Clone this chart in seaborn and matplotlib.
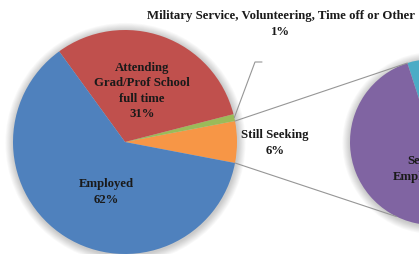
import numpy as np
import matplotlib
matplotlib.use('Agg')
import matplotlib.pyplot as plt
import seaborn as sns
from matplotlib.patches import Circle

# ── Data ───────────────────────────────────────────────────
# main pie, in drawing order (counter-clockwise from the "other" slice)
main_labels = ['Still Seeking', 'Military Service, Volunteering, Time off or Other',
               'Attending\nGrad/Prof School\nfull time', 'Employed']
main_values = [6, 1, 31, 62]
main_colors = ['#F79646', '#9BBB59', '#C0504D', '#4F81BD']

# secondary pie (breakdown of Still Seeking)
sub_labels = ['', 'Seeking\nEmployment']
sub_values = [1, 5]
sub_colors = ['#4BACC6', '#8064A2']

# ── Figure ─────────────────────────────────────────────────
sns.set_style('white')
plt.rcParams['font.family'] = ['Liberation Serif', 'DejaVu Serif']

W, H = 419, 254
fig = plt.figure(figsize=(W / 100, H / 100), dpi=100)
ax = fig.add_axes([0, 0, 1, 1])

c1, r1 = (125, 112), 112
c2, r2 = (433, 112), 83

def shadow(ax, c, r):
    for k in range(1, 10):
        ax.add_patch(Circle((c[0] + 0.5, c[1] - 1), r + k * 0.9, color='#000000',
                            alpha=0.025, lw=0, zorder=0))

shadow(ax, c1, r1)
shadow(ax, c2, r2)

start1 = -main_values[0] / sum(main_values) * 360 / 2
ax.pie(main_values, colors=main_colors, startangle=start1, counterclock=True,
       center=c1, radius=r1, wedgeprops=dict(linewidth=0), frame=True)

start2 = 108 - sub_values[0] / sum(sub_values) * 360
ax.pie(sub_values, colors=sub_colors, startangle=start2, counterclock=True,
       center=c2, radius=r2, wedgeprops=dict(linewidth=0), frame=True)

# connector lines from the "other" slice edges to the secondary pie
a = np.deg2rad(start1)
p_top = (c1[0] + r1 * np.cos(-a), c1[1] + r1 * np.sin(-a))
p_bot = (c1[0] + r1 * np.cos(a), c1[1] + r1 * np.sin(a))
q_top = (c2[0] + r2 * np.cos(np.deg2rad(108)), c2[1] + r2 * np.sin(np.deg2rad(108)))
q_bot = (c2[0] + r2 * np.cos(np.deg2rad(244)), c2[1] + r2 * np.sin(np.deg2rad(244)))
ax.plot([p_top[0], q_top[0]], [p_top[1], q_top[1]], color='#969696', lw=0.8, zorder=3)
ax.plot([p_bot[0], q_bot[0]], [p_bot[1], q_bot[1]], color='#969696', lw=0.8, zorder=3)

# leader line for the 1% slice
mid = np.deg2rad(start1 + (main_values[0] + main_values[1] / 2) / sum(main_values) * 360)
g = (c1[0] + r1 * np.cos(mid), c1[1] + r1 * np.sin(mid))
ax.plot([g[0], 255, 262], [g[1], 192, 192], color='#969696', lw=0.8, zorder=3)

# ── Labels ─────────────────────────────────────────────────
tk = dict(ha='center', va='center', fontsize=9.2, fontweight='bold', color='#1a1a1a',
          linespacing=1.4, zorder=5)
ax.text(281, 230, f'{main_labels[1]}\n{main_values[1]}%', **tk)
ax.text(142, 163, f'{main_labels[2]}\n{main_values[2]}%', **tk)
ax.text(106, 62, f'{main_labels[3]}\n{main_values[3]}%', **tk)
ax.text(275, 111, f'{main_labels[0]}\n{main_values[0]}%', **tk)
ax.text(428, 77, f'{sub_labels[1]}\n{sub_values[1]}%', **tk)

ax.set_xlim(0, W)
ax.set_ylim(0, H)
ax.set_aspect('equal')
ax.axis('off')

fig.savefig('out.png', dpi=100)
